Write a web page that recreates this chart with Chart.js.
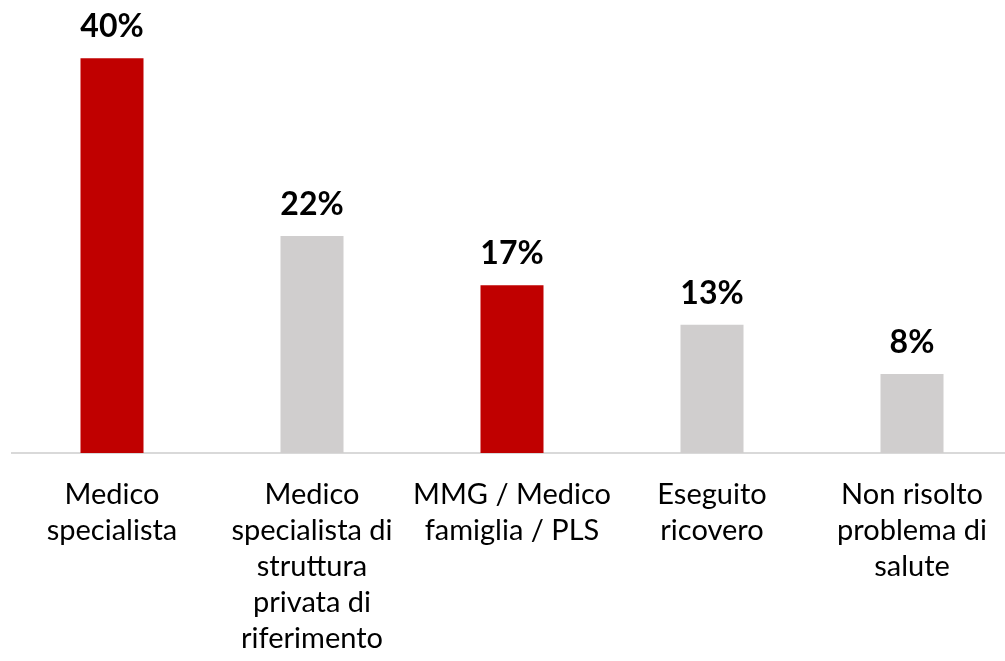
<!DOCTYPE html>
<html>
<head>
<meta charset="utf-8">
<script src="https://cdn.jsdelivr.net/npm/chart.js@4"></script>
<style>
  html, body { margin: 0; padding: 0; background: #fff; overflow: hidden; }
  #wrap { width: 1005px; height: 661px; overflow: hidden; }
</style>
</head>
<body>
<div id="wrap"><canvas id="chart" width="1015" height="661"></canvas></div>
<script>
const categories = [
    ['Medico', 'specialista'],
    ['Medico', 'specialista di', 'struttura', 'privata di', 'riferimento'],
    ['MMG / Medico', 'famiglia / PLS'],
    ['Eseguito', 'ricovero'],
    ['Non risolto', 'problema di', 'salute']
];
const values = [40, 22, 17, 13, 8];
const barColors = ['#c00000', '#d0cece', '#c00000', '#d0cece', '#d0cece'];

// value labels above the bars
const valueLabels = {
    id: 'valueLabels',
    afterDatasetsDraw(chart) {
        const ctx = chart.ctx;
        const meta = chart.getDatasetMeta(0);
        ctx.save();
        ctx.font = 'bold 32px Lato, sans-serif';
        ctx.fillStyle = '#000';
        ctx.textAlign = 'center';
        ctx.textBaseline = 'alphabetic';
        meta.data.forEach(function(bar, i) {
            ctx.fillText(values[i] + '%', bar.x, bar.y - 21);
        });
        ctx.restore();
    }
};

new Chart(document.getElementById('chart').getContext('2d'), {
    type: 'bar',
    data: {
        labels: categories,
        datasets: [{
            data: values,
            backgroundColor: barColors,
            categoryPercentage: 1,
            barPercentage: 0.315
        }]
    },
    options: {
        responsive: false,
        animation: false,
        layout: { padding: { left: 12, right: 3, top: 9, bottom: 0 } },
        plugins: { legend: { display: false }, tooltip: { enabled: false } },
        scales: {
            x: {
                grid: { display: false, drawTicks: false },
                border: { display: true, color: '#d9d9d9', width: 2 },
                ticks: {
                    color: '#000',
                    padding: 24,
                    maxRotation: 0,
                    autoSkip: false,
                    font: { family: 'Lato, sans-serif', size: 29, lineHeight: 36 / 29 }
                },
                afterFit(scale) { scale.height = 208; }
            },
            y: {
                display: false,
                min: 0,
                max: 45
            }
        }
    },
    plugins: [valueLabels]
});
</script>
</body>
</html>
